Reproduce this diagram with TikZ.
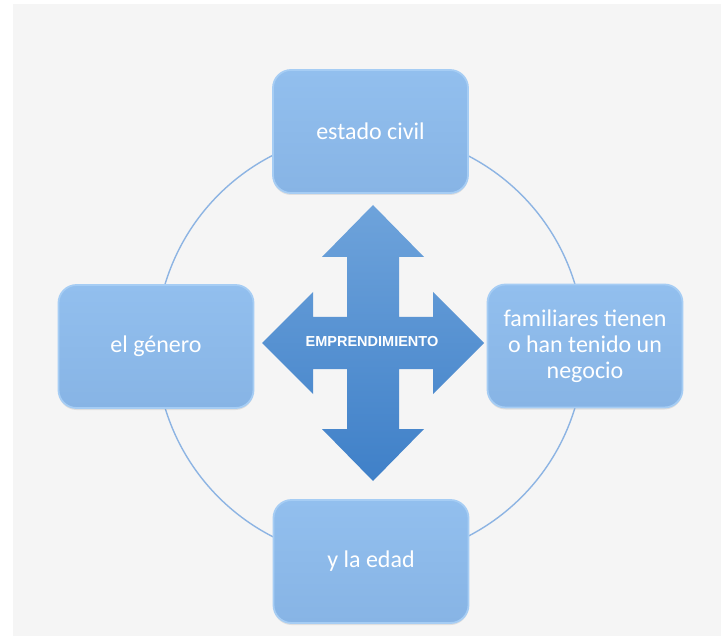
\documentclass[tikz,border=0pt]{standalone}
\usepackage{fontspec}
\setmainfont{Carlito}
\newfontfamily\arrowfont{Liberation Sans}
\usetikzlibrary{shadows}
\definecolor{bg}{HTML}{F5F5F5}
\definecolor{boxtop}{HTML}{92BFEE}
\definecolor{boxbot}{HTML}{87B4E5}
\definecolor{boxedge}{HTML}{A6CDF4}
\definecolor{ring}{HTML}{8DB4E3}
\definecolor{arrtop}{HTML}{6EA3DB}
\definecolor{arrbot}{HTML}{3F80C8}
\tikzset{
  infobox/.style={rounded corners=18pt, minimum width=195pt, minimum height=123pt,
    top color=boxtop, bottom color=boxbot, draw=boxedge, line width=1.8pt,
    text=white, align=center, font=\fontsize{24}{26}\selectfont,
    drop shadow={opacity=0.18, shadow xshift=0pt, shadow yshift=-2pt}},
  ringline/.style={draw=ring, line width=1.4pt},
  quadarrow/.style={top color=arrtop, bottom color=arrbot},
  centrelabel/.style={text=white, font=\arrowfont\bfseries\fontsize{14.5}{16}\selectfont}
}
\begin{document}
\begin{tikzpicture}[x=1pt,y=-1pt]
\useasboundingbox (0,0) rectangle (723,636);
\fill[white] (0,0) rectangle (723,636);
\fill[bg] (13,4) rectangle (721,636);
\coordinate (ringc) at (370,346);
\draw[ringline] (ringc) circle[radius=214pt];
\begin{scope}[shift={(373,343)}]
\path[quadarrow] (0,-138) -- (51,-86) -- (26,-86) -- (26,-26) -- (60,-26) -- (60,-51)
  -- (111,0) -- (60,51) -- (60,26) -- (26,26) -- (26,86) -- (51,86) -- (0,138)
  -- (-51,86) -- (-26,86) -- (-26,26) -- (-60,26) -- (-60,51) -- (-111,0)
  -- (-60,-51) -- (-60,-26) -- (-26,-26) -- (-26,-86) -- (-51,-86) -- cycle;
\end{scope}
\node[centrelabel] (centre) at (372,342) {EMPRENDIMIENTO};
\node[infobox] (top) at (370.5,131.5) {estado civil};
\node[infobox] (left) at (156,346.5) {el género};
\node[infobox] (right) at (585,346) {familiares tienen\\o han tenido un\\negocio};
\node[infobox] (bottom) at (371,561.5) {y la edad};
\end{tikzpicture}
\end{document}
